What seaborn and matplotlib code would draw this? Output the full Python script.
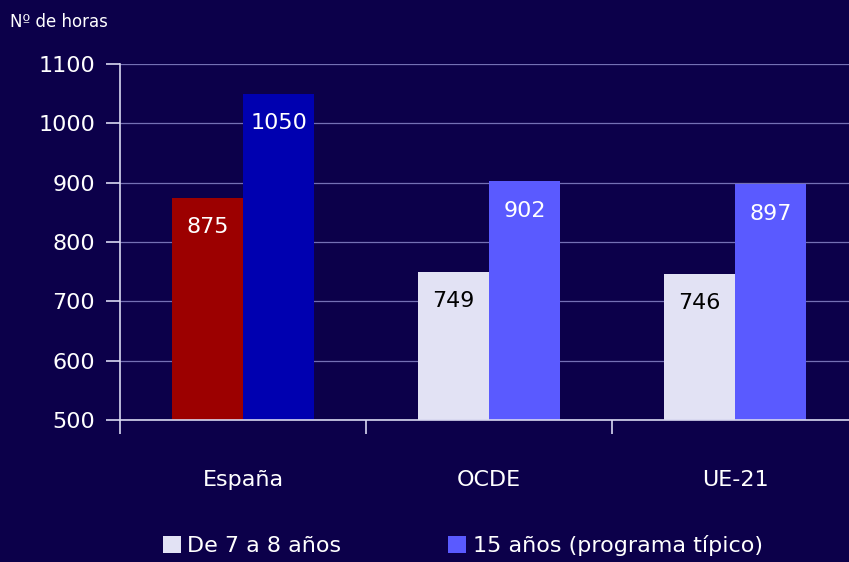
import pandas as pd
import matplotlib
matplotlib.use('Agg')
import matplotlib.pyplot as plt
import seaborn as sns
from matplotlib.patches import Patch

# Datos
paises = ['España', 'OCDE', 'UE-21']
horas_7_8 = [875, 749, 746]
horas_15 = [1050, 902, 897]
series = ['De 7 a 8 años', '15 años (programa típico)']

bg = '#0c004a'
col_light = '#e2e2f4'
col_peri = '#5a5aff'
col_red = '#9c0000'
col_blue = '#0000b0'

df = pd.DataFrame({
    'pais': paises * 2,
    'serie': [series[0]] * 3 + [series[1]] * 3,
    'horas': horas_7_8 + horas_15,
})

sns.set_style('dark')
plt.rcParams['font.family'] = ['DejaVu Sans']

fig = plt.figure(figsize=(8.49, 5.62), dpi=100, facecolor=bg)
ax = fig.add_axes([120 / 849, 142 / 562, 738 / 849, 356 / 562])
ax.set_facecolor(bg)

sns.barplot(data=df, x='pais', y='horas', hue='serie', order=paises,
            hue_order=series, palette=[col_light, col_peri], width=0.58,
            saturation=1, ax=ax, legend=False, edgecolor='none')

ax.set_ylim(500, 1100)
ax.set_xlim(-0.5, 2.5)

# barras ordenadas de izquierda a derecha
bars = [p for p in ax.patches if p.get_height() > 0]
bars = sorted(bars, key=lambda p: p.get_x())

# España con colores propios
bars[0].set_facecolor(col_red)
bars[1].set_facecolor(col_blue)

# etiquetas de valores (negro sobre las barras claras)
for i, p in enumerate(bars):
    v = p.get_height()
    color = 'black' if i in (2, 4) else 'white'
    ax.annotate(f'{int(v)}', (p.get_x() + p.get_width() / 2, v),
                xytext=(0, -21), textcoords='offset points',
                ha='center', va='center', fontsize=16, color=color)

# rejilla y ejes
ax.grid(axis='y', color='#7470b4', linewidth=0.9)
ax.grid(axis='x', visible=False)
ax.set_axisbelow(True)
for s in ['top', 'right']:
    ax.spines[s].set_visible(False)
for s in ['left', 'bottom']:
    ax.spines[s].set_visible(True)
    ax.spines[s].set_color('#d8d8f0')
    ax.spines[s].set_linewidth(1.2)

ax.set_yticks(range(500, 1101, 100))
ax.tick_params(axis='y', colors='#d8d8f0', labelcolor='white', labelsize=16,
               length=10, width=1.2, direction='out', left=True, pad=8)
ax.set_xticks([-0.5, 0.5, 1.5], minor=True)
ax.tick_params(axis='x', which='minor', length=10, width=1.2, color='#d8d8f0',
               direction='out', bottom=True)
ax.tick_params(axis='x', which='major', length=0, labelsize=16,
               labelcolor='white', pad=36)
ax.set_xlabel('')
ax.set_ylabel('')

fig.text(10 / 849, 1 - 22 / 562, 'Nº de horas', color='white', fontsize=12,
         ha='left', va='center')

handles = [Patch(facecolor=col_light, edgecolor='none', label=series[0]),
           Patch(facecolor=col_peri, edgecolor='none', label=series[1])]
fig.legend(handles=handles, loc='center', bbox_to_anchor=(0.545, 1 - 546 / 562),
           ncol=2, frameon=False, fontsize=16, labelcolor='white',
           handlelength=0.8, handleheight=0.8, handletextpad=0.3,
           columnspacing=4.8)

fig.savefig('out.png', dpi=100, facecolor=bg)
